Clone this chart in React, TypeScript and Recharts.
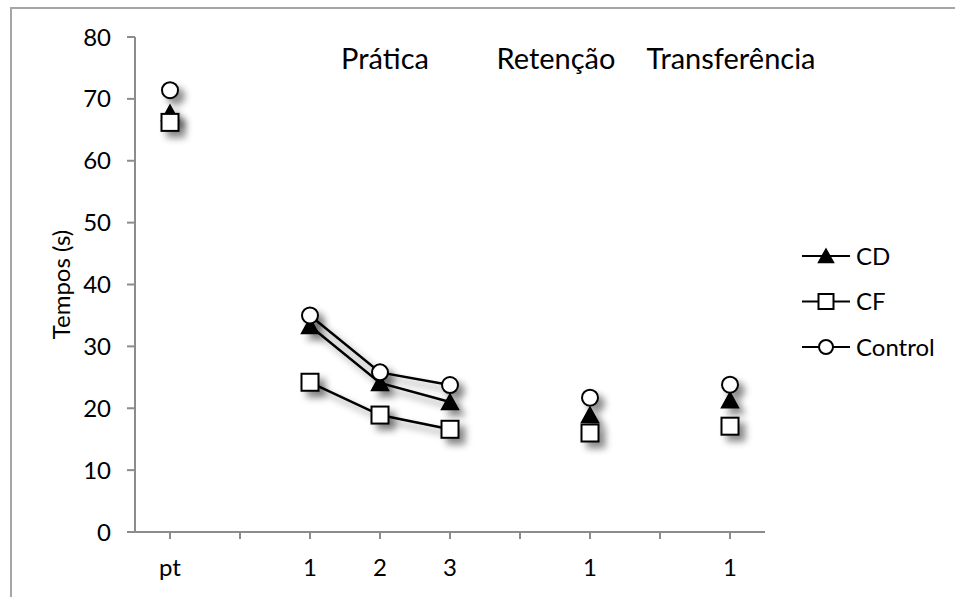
import { LineChart, Line, XAxis, YAxis } from "recharts";

const categories = ["pt", "", "1", "2", "3", "", "1", "", "1"];
const cdValues = [67.7, null, 33.3, 24.1, 21.0, null, 18.9, null, 21.3];
const cfValues = [66.2, null, 24.2, 18.9, 16.6, null, 16.0, null, 17.1];
const controlValues = [71.4, null, 35.0, 25.8, 23.75, null, 21.7, null, 23.8];
const yTicks = [0, 10, 20, 30, 40, 50, 60, 70, 80];
const phaseLabels = [
  { text: "Prática", x: 385 },
  { text: "Retenção", x: 556 },
  { text: "Transferência", x: 731 },
];

const data = categories.map((label, i) => ({
  key: `c${i}`,
  label,
  cd: cdValues[i],
  cf: cfValues[i],
  control: controlValues[i],
}));

const FONT = "Lato, 'Open Sans', sans-serif";
const AXIS_GREY = "#8c8c8c";

type Shape = "triangle" | "square" | "circle";

function Marker({ shape, x, y, size = 17 }: { shape: Shape; x: number; y: number; size?: number }) {
  const h = size / 2;
  if (shape === "triangle") {
    return (
      <polygon
        points={`${x},${y - h + 0.5} ${x + h},${y + h - 1} ${x - h},${y + h - 1}`}
        fill="#000"
        stroke="#000"
        strokeWidth={1.5}
      />
    );
  }
  if (shape === "square") {
    return <rect x={x - h} y={y - h} width={size} height={size} fill="#fff" stroke="#000" strokeWidth={2} />;
  }
  return <circle cx={x} cy={y} r={h - 0.5} fill="#fff" stroke="#000" strokeWidth={2} />;
}

function makeDot(shape: Shape) {
  return (props: any) => {
    const { cx, cy, index } = props;
    if (cx == null || cy == null || props.value == null) return <g key={`${shape}-${index}`} />;
    return (
      <g key={`${shape}-${index}`}>
        <Marker shape={shape} x={cx} y={cy} />
      </g>
    );
  };
}

const legendItems: { name: string; shape: Shape }[] = [
  { name: "CD", shape: "triangle" },
  { name: "CF", shape: "square" },
  { name: "Control", shape: "circle" },
];

function LegendBox() {
  return (
    <svg width={155} height={130} style={{ position: "absolute", left: 800, top: 240 }}>
      {legendItems.map((item, i) => {
        const y = 16 + i * 45.5;
        return (
          <g key={item.name}>
            <line x1={2} x2={50} y1={y} y2={y} stroke="#000" strokeWidth={2} />
            <Marker shape={item.shape} x={26} y={y} size={15} />
            <text x={56} y={y} dy="0.36em" fontFamily={FONT} fontSize={24} fill="#000">
              {item.name}
            </text>
          </g>
        );
      })}
    </svg>
  );
}

export default function App() {
  return (
    <div style={{ position: "absolute", left: 0, top: 0, width: 955, height: 597, background: "#fff", overflow: "hidden" }}>
      <style>{`
        .recharts-line-curve, .recharts-line-dots { filter: drop-shadow(6px 6px 3.5px rgba(0,0,0,0.45)); }
      `}</style>
      <div
        style={{
          position: "absolute",
          left: 10,
          top: 7,
          width: 1000,
          height: 700,
          borderLeft: "2px solid #a6a6a6",
          borderTop: "2px solid #a6a6a6",
        }}
      />
      <LineChart width={955} height={597} data={data} margin={{ top: 37, right: 190, bottom: 35, left: 75 }}>
        <XAxis
          dataKey="key"
          tickFormatter={(_v: any, i: number) => categories[i]}
          interval={0}
          height={30}
          padding={{ left: 35, right: 35 }}
          stroke={AXIS_GREY}
          strokeWidth={2}
          tickSize={7}
          tickMargin={20}
          tick={{ fill: "#000", fontSize: 24, fontFamily: FONT }}
        />
        <YAxis
          domain={[0, 80]}
          ticks={yTicks}
          width={60}
          stroke={AXIS_GREY}
          strokeWidth={2}
          tickSize={8}
          tickMargin={16}
          tick={{ fill: "#000", fontSize: 24, fontFamily: FONT }}
          label={{
            value: "Tempos (s)",
            angle: -90,
            position: "insideLeft",
            offset: -14,
            style: { textAnchor: "middle", fill: "#000", fontSize: 24, fontFamily: FONT },
          }}
        />
        <Line
          dataKey="cd"
          stroke="#000"
          strokeWidth={2.5}
          dot={makeDot("triangle")}
          activeDot={false}
          connectNulls={false}
          isAnimationActive={false}
        />
        <Line
          dataKey="cf"
          stroke="#000"
          strokeWidth={2.5}
          dot={makeDot("square")}
          activeDot={false}
          connectNulls={false}
          isAnimationActive={false}
        />
        <Line
          dataKey="control"
          stroke="#000"
          strokeWidth={2.5}
          dot={makeDot("circle")}
          activeDot={false}
          connectNulls={false}
          isAnimationActive={false}
        />
      </LineChart>
      <LegendBox />
      {phaseLabels.map((p) => (
        <div
          key={p.text}
          style={{
            position: "absolute",
            left: p.x - 120,
            width: 240,
            top: 40,
            textAlign: "center",
            fontFamily: FONT,
            fontSize: 29,
            lineHeight: "36px",
            color: "#000",
          }}
        >
          {p.text}
        </div>
      ))}
    </div>
  );
}
